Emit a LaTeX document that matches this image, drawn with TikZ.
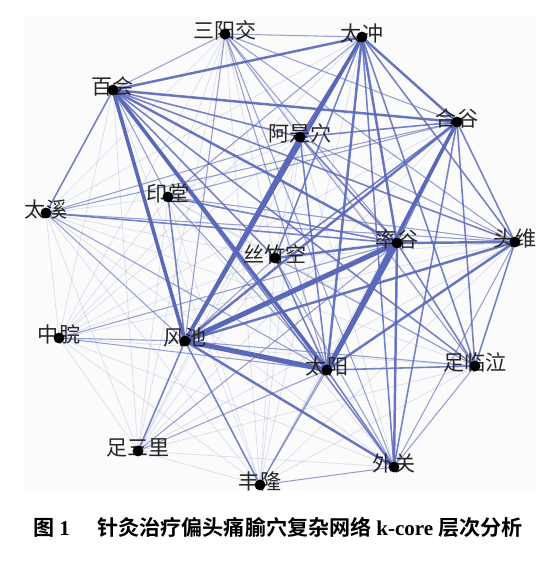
\documentclass[tikz,border=0pt]{standalone}
\usepackage{fontspec}
\newfontfamily\cjk{Noto Sans CJK SC}
\newfontfamily\cjkbold{Noto Sans CJK SC Bold}
\newfontfamily\capserif{Liberation Serif}
\definecolor{edgeblue}{RGB}{90,104,186}
\definecolor{plotbg}{RGB}{251,251,251}

\begin{document}
\begin{tikzpicture}[x=0.02cm, y=-0.02cm,
    pt/.style={circle, fill=black, inner sep=0pt, minimum size=6.2pt},
    lab/.style={font=\cjk\fontsize{12}{12}\selectfont, inner sep=0pt, text=black!85},
    e0/.style={edgeblue, line width=0.4pt, opacity=0.2},
    e1/.style={edgeblue, line width=0.6pt, opacity=0.55},
    e2/.style={edgeblue, line width=0.9pt, opacity=0.8},
    e3/.style={edgeblue, line width=1.4pt, opacity=0.9},
    e4/.style={edgeblue, line width=2pt},
    e5/.style={edgeblue, line width=2.9pt}]

    \useasboundingbox (0,0) rectangle (554,562);
    \fill[plotbg] (25,17) rectangle (537,490);

    % acupoints (pixel positions)
    \foreach \n/\x/\y in {sy/225/34, tc/362/37, bh/113/90, hg/457/122,
        as/300/137, yt/168/197, tx/46/213, sg/397/243, tw/515/242,
        sz/275/258, zw/59/338, fc/185/341, ty/327/370, zl/475/366,
        zs/138/451, wg/394/467, fl/260/485}
        \coordinate (\n) at (\x,\y);

    % every pair, faint
    \foreach \a [count=\i] in {sy,tc,bh,hg,as,yt,tx,sg,tw,sz,zw,fc,ty,zl,zs,wg,fl}
        \foreach \b [count=\j] in {sy,tc,bh,hg,as,yt,tx,sg,tw,sz,zw,fc,ty,zl,zs,wg,fl}
            {\ifnum\j>\i \draw[e0] (\a) -- (\b); \fi}

    % weaker ties
    \foreach \a/\b in {sy/tc, sy/bh, sy/fc, sy/ty, sy/sg, sy/wg, sy/tw, sy/as,
        sy/hg, tx/fc, tx/ty, tx/hg, tx/tw, tx/as, zw/fc, zw/sg, zw/ty,
        zs/ty, zs/sg, fl/ty, fl/wg, fl/sg, wg/zl, wg/tw, yt/ty, yt/tc,
        yt/hg, yt/tw, sz/fc, bh/yt, as/tw, as/zl, sz/zl, sz/wg, fc/zl}
        \draw[e1] (\a) -- (\b);

    \foreach \a/\b in {bh/tw, bh/zl, bh/as, bh/sz, bh/wg, tc/tw, tc/zl,
        tc/sz, tc/wg, tc/as, hg/tw, hg/sg, hg/sz, hg/as, hg/wg, hg/zl,
        sg/zl, sg/as, sg/yt, tw/zl, ty/zl, ty/wg, ty/as, ty/sz, fc/zs,
        fc/fl, fc/yt, tx/sg, tx/bh, as/tc}
        \draw[e2] (\a) -- (\b);

    % stronger ties
    \foreach \a/\b in {bh/tc, bh/hg, bh/sg, tc/hg, tc/sg, tc/ty, sg/tw,
        sg/sz, tw/fc, tw/ty, hg/fc, fc/wg, sg/wg}
        \draw[e3] (\a) -- (\b);

    \foreach \a/\b in {bh/fc, bh/ty, tc/fc, as/fc, hg/ty}
        \draw[e4] (\a) -- (\b);

    \foreach \a/\b in {fc/sg, fc/ty, sg/ty}
        \draw[e5] (\a) -- (\b);

    % labels, then dots on top
    \foreach \n/\t in {sy/三阳交, tc/太冲, bh/百会, hg/合谷, as/阿是穴,
        yt/印堂, tx/太溪, sg/率谷, tw/头维, sz/丝竹空, zw/中脘, fc/风池,
        ty/太阳, zl/足临泣, zs/足三里, wg/外关, fl/丰隆}
        \node[lab] at ([yshift=2pt]\n) {\t};
    \foreach \n in {sy,tc,bh,hg,as,yt,tx,sg,tw,sz,zw,fc,ty,zl,zs,wg,fl}
        \node[pt] at (\n) {};

    \node[font=\fontsize{12}{12}\selectfont] (cap) at (278,527)
        {\cjkbold 图 {\capserif\bfseries 1}\hspace{1.3em}针灸治疗偏头痛腧穴复杂网络 {\capserif\bfseries k-core} 层次分析};
\end{tikzpicture}
\end{document}
